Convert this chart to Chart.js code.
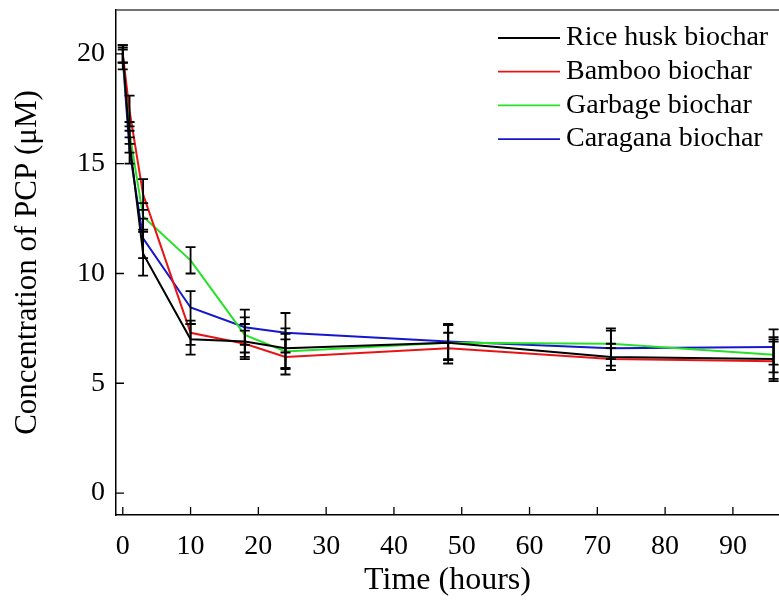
<!DOCTYPE html>
<html>
<head>
<meta charset="utf-8">
<script src="https://cdn.jsdelivr.net/npm/chart.js@4"></script>
<style>
  html, body { margin: 0; padding: 0; background: #fff; }
  #wrap { width: 779px; height: 601px; }
</style>
</head>
<body>
<div id="wrap"><canvas id="pcp" width="779" height="601"></canvas></div>
<script>
// time points (hours)
const times = [0, 1, 3, 10, 18, 24, 48, 72, 96];

// PCP concentration (uM) for each biochar
const riceHusk = [20.0, 16.0, 10.9, 7.0, 6.9, 6.6, 6.85, 6.2, 6.1];
const bamboo   = [20.0, 17.4, 13.6, 7.3, 6.8, 6.2, 6.6, 6.1, 6.0];
const garbage  = [19.9, 16.4, 12.6, 10.6, 7.2, 6.45, 6.85, 6.8, 6.3];
const caragana = [19.8, 15.6, 11.6, 8.45, 7.55, 7.3, 6.9, 6.6, 6.65];

// error bars (+/-)
const riceHuskErr = [0.4, 0.5, 1.0, 0.7, 0.8, 0.9, 0.8, 0.6, 0.9];
const bambooErr   = [0.4, 0.7, 0.7, 0.55, 0.6, 0.8, 0.7, 0.5, 0.9];
const garbageErr  = [0.3, 0.5, 0.6, 0.6, 0.8, 0.8, 0.8, 0.7, 0.8];
const caraganaErr = [0.5, 0.6, 0.9, 0.75, 0.8, 0.9, 0.8, 0.8, 0.8];

const seriesNames = ['Rice husk biochar', 'Bamboo biochar', 'Garbage biochar', 'Caragana biochar'];
const xTicks = [0, 10, 20, 30, 40, 50, 60, 70, 80, 90];
const yTicks = [0, 5, 10, 15, 20];

const serif = "'Liberation Serif', 'DejaVu Serif', serif";
const colors = ['#000000', '#e81414', '#28e028', '#1616cc'];
const values = [riceHusk, bamboo, garbage, caragana];
const errors = [riceHuskErr, bambooErr, garbageErr, caraganaErr];

const toPoints = (arr) => arr.map((v, i) => ({ x: times[i], y: v }));

// error bars, inward ticks, top frame and legend
const extras = {
  id: 'extras',
  afterDatasetsDraw(chart) {
    const ctx = chart.ctx;
    const xs = chart.scales.x, ys = chart.scales.y;
    const area = chart.chartArea;
    ctx.save();
    ctx.strokeStyle = '#000';
    ctx.lineWidth = 1.8;
    errors.forEach((errArr, d) => {
      errArr.forEach((e, i) => {
        const px = xs.getPixelForValue(times[i]);
        const top = ys.getPixelForValue(values[d][i] + e);
        const bot = ys.getPixelForValue(values[d][i] - e);
        ctx.beginPath();
        ctx.moveTo(px, top); ctx.lineTo(px, bot);
        ctx.moveTo(px - 5, top); ctx.lineTo(px + 5, top);
        ctx.moveTo(px - 5, bot); ctx.lineTo(px + 5, bot);
        ctx.stroke();
      });
    });

    // inward tick marks
    ctx.lineWidth = 1.3;
    ctx.beginPath();
    yTicks.forEach(v => {
      const py = ys.getPixelForValue(v);
      ctx.moveTo(area.left, py); ctx.lineTo(area.left + 8, py);
    });
    xTicks.forEach(v => {
      const px = xs.getPixelForValue(v);
      ctx.moveTo(px, area.bottom); ctx.lineTo(px, area.bottom - 8);
    });
    ctx.stroke();

    // top frame line
    ctx.strokeStyle = '#444';
    ctx.lineWidth = 1.5;
    ctx.beginPath();
    ctx.moveTo(area.left, area.top); ctx.lineTo(area.right, area.top);
    ctx.stroke();

    // legend
    ctx.font = '28px ' + serif;
    ctx.textBaseline = 'middle';
    ctx.textAlign = 'left';
    seriesNames.forEach((name, i) => {
      const y = 38 + i * 33.7;
      ctx.strokeStyle = colors[i];
      ctx.lineWidth = 1.8;
      ctx.beginPath();
      ctx.moveTo(498, y); ctx.lineTo(560, y);
      ctx.stroke();
      ctx.fillStyle = '#000';
      ctx.fillText(name, 566, y);
    });
    ctx.restore();
  }
};

new Chart(document.getElementById('pcp'), {
  type: 'line',
  data: {
    datasets: seriesNames.map((name, i) => ({
      label: name,
      data: toPoints(values[i]),
      borderColor: colors[i],
      borderWidth: 2,
      pointRadius: 0,
      tension: 0,
      fill: false
    }))
  },
  options: {
    responsive: false,
    animation: false,
    devicePixelRatio: 1,
    layout: { padding: { top: 10, left: 0, right: 0, bottom: 0 } },
    plugins: { legend: { display: false }, tooltip: { enabled: false } },
    scales: {
      x: {
        type: 'linear',
        min: -1,
        max: 96.8,
        afterBuildTicks: (scale) => { scale.ticks = xTicks.map(v => ({ value: v })); },
        afterFit: (scale) => { scale.height = 86; scale.paddingLeft = 0; scale.paddingRight = 0; },
        grid: { display: false, drawTicks: false },
        border: { display: true, color: '#000', width: 1.5 },
        ticks: { color: '#000', font: { family: serif, size: 28 }, padding: 15, maxRotation: 0 },
        title: { display: true, text: 'Time (hours)', color: '#000', font: { family: serif, size: 32 }, padding: { top: 0, bottom: 1 } }
      },
      y: {
        min: -1,
        max: 22,
        afterBuildTicks: (scale) => { scale.ticks = yTicks.map(v => ({ value: v })); },
        afterFit: (scale) => { scale.width = 116; scale.paddingTop = 0; scale.paddingBottom = 0; },
        grid: { display: false, drawTicks: false },
        border: { display: true, color: '#000', width: 1.5 },
        ticks: { color: '#000', font: { family: serif, size: 28 }, padding: 11 },
        title: { display: true, text: 'Concentration of PCP (μM)', color: '#000', font: { family: serif, size: 31 }, padding: { top: 9, bottom: 0 } }
      }
    }
  },
  plugins: [extras]
});
</script>
</body>
</html>
